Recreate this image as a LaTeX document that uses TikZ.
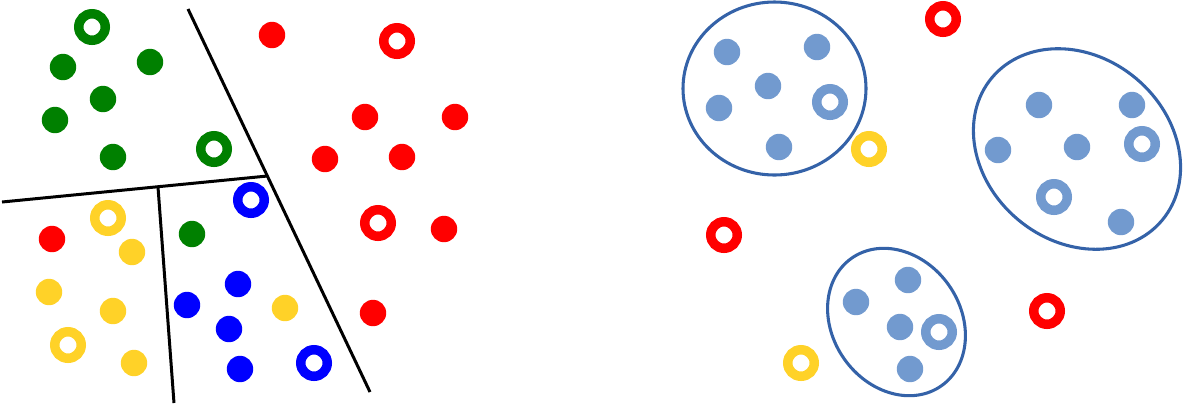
\documentclass[tikz,border=0pt]{standalone}
\begin{document}
\begin{tikzpicture}[x=0.75pt,y=-0.75pt,
  dot/.style={circle,fill=#1,minimum size=19.8pt,inner sep=0pt},
  ring/.style={circle,draw=#1,line width=7.1pt,minimum size=19.9pt,inner sep=0pt},
  sep/.style={draw=black,line width=2.25pt},
  clus/.style={draw=clusline,line width=2.3pt}]
\definecolor{cgreen}{RGB}{0,128,0}
\definecolor{cred}{RGB}{255,0,0}
\definecolor{cblue}{RGB}{0,0,255}
\definecolor{cyellow}{RGB}{255,210,40}
\definecolor{clight}{RGB}{114,154,207}
\definecolor{clusline}{RGB}{52,98,168}
\useasboundingbox (0,0) rectangle (1200,405);
% separating lines
\coordinate (a1) at (188,9);
\coordinate (a2) at (370,392);
\coordinate (j) at (267.4,176);
\coordinate (b1) at (2,202);
\coordinate (c1) at (158,187);
\coordinate (c2) at (174,403);
\draw[sep] (a1) -- (a2);
\draw[sep] (b1) -- (j);
\draw[sep] (c1) -- (c2);
% green
\node[ring=cgreen] (gr1) at (92,27) {};
\node[ring=cgreen] (gr2) at (214,149) {};
\node[dot=cgreen] (g1) at (63,67) {};
\node[dot=cgreen] (g2) at (150,62) {};
\node[dot=cgreen] (g3) at (103,99) {};
\node[dot=cgreen] (g4) at (55,120) {};
\node[dot=cgreen] (g5) at (113,157) {};
\node[dot=cgreen] (g6) at (192,234) {};
% red
\node[ring=cred] (rr1) at (397,41) {};
\node[ring=cred] (rr2) at (378,223) {};
\node[dot=cred] (r1) at (272,35) {};
\node[dot=cred] (r2) at (365,117) {};
\node[dot=cred] (r3) at (455,117) {};
\node[dot=cred] (r4) at (325,159) {};
\node[dot=cred] (r5) at (402,157) {};
\node[dot=cred] (r6) at (444,229) {};
\node[dot=cred] (r7) at (373,313) {};
\node[dot=cred] (r8) at (52,239) {};
% yellow
\node[ring=cyellow] (yr1) at (108,218) {};
\node[ring=cyellow] (yr2) at (68,345) {};
\node[dot=cyellow] (y1) at (132,252) {};
\node[dot=cyellow] (y2) at (49,292) {};
\node[dot=cyellow] (y3) at (113,311) {};
\node[dot=cyellow] (y4) at (134,363) {};
\node[dot=cyellow] (y5) at (285,308) {};
% blue
\node[ring=cblue] (br1) at (251,200) {};
\node[ring=cblue] (br2) at (314,363) {};
\node[dot=cblue] (b1d) at (238,284) {};
\node[dot=cblue] (b2d) at (187,305) {};
\node[dot=cblue] (b3d) at (229,329) {};
\node[dot=cblue] (b4d) at (240,369) {};
% right panel clusters
\draw[clus] (774.5,88.5) ellipse [x radius=91.5, y radius=86.5];
\draw[clus] (1077,149) ellipse [x radius=111, y radius=92, rotate=-40];
\draw[clus] (896.5,322) ellipse [x radius=64, y radius=78, rotate=35];
\node[dot=clight] (l1) at (727,52) {};
\node[dot=clight] (l2) at (817,47) {};
\node[dot=clight] (l3) at (768,86) {};
\node[dot=clight] (l4) at (719,108) {};
\node[dot=clight] (l5) at (779,147) {};
\node[ring=clight] (lr1) at (830,102) {};
\node[dot=clight] (m1) at (1039,105) {};
\node[dot=clight] (m2) at (1132,105) {};
\node[dot=clight] (m3) at (998,150) {};
\node[dot=clight] (m4) at (1077,147) {};
\node[dot=clight] (m5) at (1121,222) {};
\node[ring=clight] (mr1) at (1142,144) {};
\node[ring=clight] (mr2) at (1054,197) {};
\node[dot=clight] (n1) at (908,280) {};
\node[dot=clight] (n2) at (856,302) {};
\node[dot=clight] (n3) at (900,327) {};
\node[dot=clight] (n4) at (910,369) {};
\node[ring=clight] (nr1) at (939,332) {};
% outliers
\node[ring=cyellow] (oy1) at (869,149) {};
\node[ring=cyellow] (oy2) at (801,363) {};
\node[ring=cred] (or1) at (943,19) {};
\node[ring=cred] (or2) at (724,235) {};
\node[ring=cred] (or3) at (1047,311) {};
\end{tikzpicture}
\end{document}
